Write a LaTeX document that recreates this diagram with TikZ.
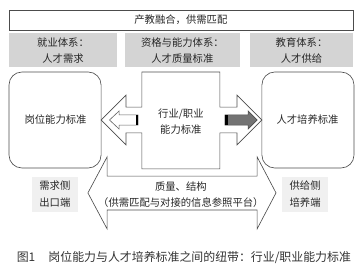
\documentclass[tikz,border=0pt]{standalone}
\usepackage{fontspec}
\setmainfont{Noto Sans CJK SC}
\usepackage{xcolor}
\usepackage{tikz}

\begin{document}
\begin{tikzpicture}[line width=0.6pt,
  lbl/.style={align=center,text=black!85,inner sep=1pt,font=\fontsize{9.8}{15.2}\selectfont},
  frame/.style={draw=black!70},
  band/.style={fill=black!17},
  side/.style={lbl,fill=black!6,minimum width=1.53cm,minimum height=1.17cm}]
  \useasboundingbox (0,0) rectangle (12.1,-9.13);
  \draw[frame,fill=white] (0.30,-0.33) rectangle (11.77,-1.00);
  \node[lbl] (top) at (6.03,-0.67) {产教融合，供需匹配};
  \fill[band] (0.30,-1.10) rectangle (3.90,-2.23);
  \fill[band] (4.17,-1.10) rectangle (8.00,-2.23);
  \fill[band] (8.33,-1.10) rectangle (11.77,-2.23);
  \node[lbl] (jiuye) at (2.10,-1.67) {就业体系：\\人才需求};
  \node[lbl] (zige) at (6.08,-1.67) {资格与能力体系：\\人才质量标准};
  \node[lbl] (jiaoyu) at (10.05,-1.67) {教育体系：\\人才供给};
  \draw[frame,rounded corners=0.43cm] (0.30,-2.40) rectangle (3.37,-5.60);
  \draw[frame,rounded corners=0.43cm] (8.73,-2.40) rectangle (11.80,-5.60);
  \node[lbl] (gangwei) at (1.85,-4.00) {岗位能力标准};
  \node[lbl] (peiyang) at (10.25,-4.00) {人才培养标准};
  \draw[frame] (4.73,-2.40) -- (7.33,-2.40) -- (7.33,-3.57) -- (7.90,-3.57) -- (7.90,-3.17)
    -- (8.73,-4.00) -- (7.90,-4.83) -- (7.90,-4.43) -- (7.33,-4.43) -- (7.33,-5.63)
    -- (4.73,-5.63) -- (4.73,-4.43) -- (4.20,-4.43) -- (4.20,-4.83) -- (3.37,-4.00)
    -- (4.20,-3.17) -- (4.20,-3.57) -- (4.73,-3.57) -- cycle;
  \node[lbl] (hangye) at (6.03,-4.05) {行业/职业\\能力标准};
  \draw[draw=black!60,fill=white] (4.60,-3.83) -- (3.97,-3.83) -- (3.97,-3.70) -- (3.65,-4.00)
    -- (3.97,-4.30) -- (3.97,-4.17) -- (4.60,-4.17) -- cycle;
  \fill[black] (4.53,-3.83) rectangle (4.60,-4.17);
  \draw[draw=black!70,fill=black!55] (7.50,-3.83) -- (8.27,-3.83) -- (8.27,-3.70) -- (8.57,-4.00)
    -- (8.27,-4.30) -- (8.27,-4.17) -- (7.50,-4.17) -- cycle;
  \fill[black] (7.50,-3.83) rectangle (7.60,-4.17);
  \draw[frame] (3.57,-5.87) -- (8.57,-5.87) -- (8.57,-5.23) -- (9.20,-6.43) -- (8.57,-7.63)
    -- (8.57,-7.00) -- (3.57,-7.00) -- (3.57,-7.63) -- (2.93,-6.43) -- (3.57,-5.23) -- cycle;
  \node[lbl] (pingtai) at (6.03,-6.50) {质量、结构\\（供需匹配与对接的信息参照平台）};
  \node[side] (xuqiu) at (1.83,-6.47) {需求侧\\出口端};
  \node[side] (gongji) at (10.17,-6.47) {供给侧\\培养端};
  \node[anchor=west,inner sep=0pt,text=black!80,font=\fontsize{11.3}{13}\selectfont] (cap)
    at (0.55,-8.60) {图1\hspace{1.1em}岗位能力与人才培养标准之间的纽带：行业/职业能力标准};
\end{tikzpicture}
\end{document}
